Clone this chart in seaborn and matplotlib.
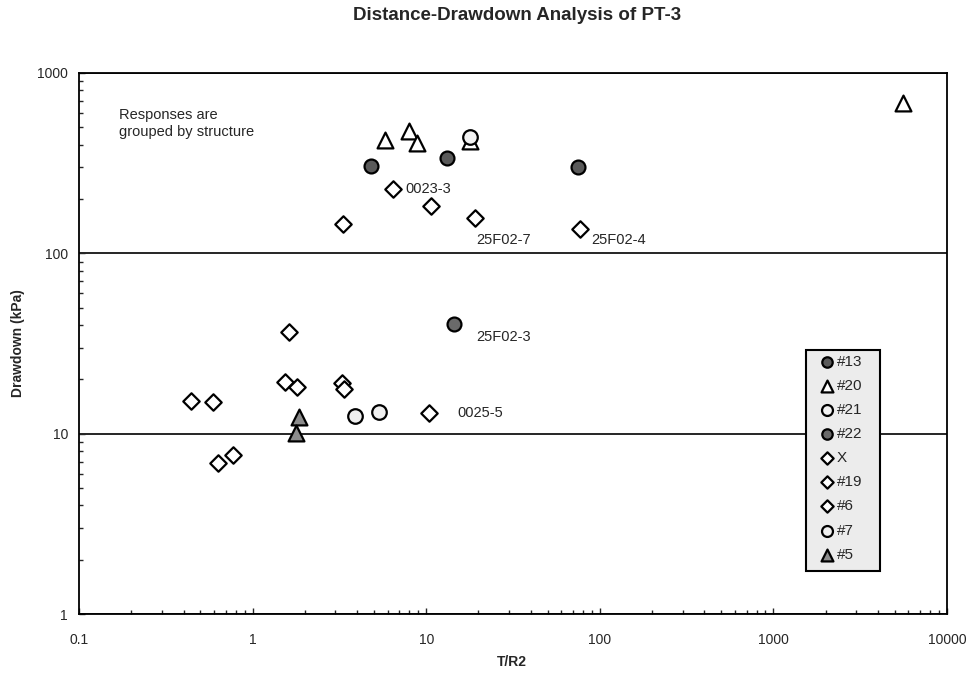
import matplotlib
matplotlib.use("Agg")
import matplotlib.pyplot as plt
import seaborn as sns
import pandas as pd
from matplotlib.ticker import NullFormatter, LogLocator
from matplotlib.patches import Rectangle

sns.set_style("ticks")
plt.rcParams['font.family'] = ['Liberation Sans', 'DejaVu Sans']

# ---- data ----
s13_x = [4.81, 13.2, 74.9]
s13_y = [305, 338, 301]
s20_x = [5.79, 7.96, 8.85, 17.9, 5580]
s20_y = [425, 477, 409, 418, 682]
s21_x = [17.9]
s21_y = [442]
s22_x = [14.5]
s22_y = [40.5]
sX_x = [6.44, 10.7, 19.1, 76.9, 3.32]
sX_y = [227, 183, 157, 136, 145.6]
s19_x = [1.62, 1.54, 1.80, 3.27, 3.36]
s19_y = [36.6, 19.3, 18.1, 19.1, 17.7]
s6_x = [0.442, 0.592, 0.632, 0.771, 10.4]
s6_y = [15.2, 15.0, 6.87, 7.61, 13.0]
s7_x = [3.89, 5.35]
s7_y = [12.5, 13.2]
s5_x = [1.85, 1.78]
s5_y = [12.4, 10.1]

series_names = ["#13", "#20", "#21", "#22", "X", "#19", "#6", "#7", "#5"]
series_x = [s13_x, s20_x, s21_x, s22_x, sX_x, s19_x, s6_x, s7_x, s5_x]
series_y = [s13_y, s20_y, s21_y, s22_y, sX_y, s19_y, s6_y, s7_y, s5_y]

x_ticks = [0.1, 1, 10, 100, 1000, 10000]
x_tick_labels = ["0.1", "1", "10", "100", "1000", "10000"]
y_ticks = [1, 10, 100, 1000]
y_tick_labels = ["1", "10", "100", "1000"]

annot_text = ["0023-3", "25F02-7", "25F02-4", "25F02-3", "0025-5"]
annot_x = [7.55, 19.4, 88.9, 19.4, 15.2]
annot_y = [227, 118.6, 118.6, 34.3, 13.0]

# ---- styles ----
styles = {
    "#13": dict(marker="o", color="#5a5a5a", s=100),
    "#20": dict(marker="^", color="white", s=130),
    "#21": dict(marker="o", color="#f2f2f2", s=110),
    "#22": dict(marker="o", color="#6a6a6a", s=100),
    "X":   dict(marker="D", color="white", s=70),
    "#19": dict(marker="D", color="white", s=70),
    "#6":  dict(marker="D", color="white", s=70),
    "#7":  dict(marker="o", color="#efefef", s=110),
    "#5":  dict(marker="^", color="#8c8c8c", s=130),
}

rows = []
for name, xs, ys in zip(series_names, series_x, series_y):
    for x, y in zip(xs, ys):
        rows.append({"series": name, "T/R2": x, "Drawdown": y})
df = pd.DataFrame(rows)

fig = plt.figure(figsize=(9.71, 6.77), dpi=100)
ax = fig.add_axes([79/971, 63/677, 868/971, 541/677])

for name in series_names:
    sub = df[df["series"] == name]
    st = styles[name]
    sns.scatterplot(data=sub, x="T/R2", y="Drawdown", ax=ax, marker=st["marker"],
                    color=st["color"], s=st["s"], edgecolor="black", linewidth=1.6,
                    label=name, zorder=3)

ax.set_xscale("log")
ax.set_yscale("log")
ax.set_xlim(0.1, 10000)
ax.set_ylim(1, 1000)
ax.set_xticks(x_ticks)
ax.set_xticklabels(x_tick_labels)
ax.set_yticks(y_ticks)
ax.set_yticklabels(y_tick_labels)
ax.xaxis.set_minor_locator(LogLocator(base=10, subs=range(2, 10)))
ax.yaxis.set_minor_locator(LogLocator(base=10, subs=range(2, 10)))
ax.xaxis.set_minor_formatter(NullFormatter())
ax.yaxis.set_minor_formatter(NullFormatter())
ax.tick_params(which="major", direction="in", length=4, width=1, labelsize=10)
ax.tick_params(axis="x", which="major", pad=14)
ax.tick_params(axis="y", which="major", pad=8)
ax.tick_params(which="minor", direction="in", length=3, width=1)
ax.yaxis.grid(True, which="major", color="black", linewidth=1.2)
ax.xaxis.grid(False)
for sp in ax.spines.values():
    sp.set_visible(True)
    sp.set_linewidth(1.3)
    sp.set_color("black")

ax.set_xlabel("T/R2", fontsize=10, fontweight="bold")
ax.xaxis.set_label_coords((512 - 79) / 868, -(655 - 614) / 541)
ax.set_ylabel("Drawdown (kPa)", fontsize=10, fontweight="bold")
ax.yaxis.set_label_coords(-(79 - 25) / 868, 0.5)
fig.text(517 / 971, 1 - 15 / 677, "Distance-Drawdown Analysis of PT-3", fontsize=13.5,
         fontweight="bold", ha="center", va="center")

for t, x, y in zip(annot_text, annot_x, annot_y):
    ax.text(x, y, t, fontsize=10.5, va="center", ha="left")

ax.text(0.046, 0.935, "Responses are\ngrouped by structure", transform=ax.transAxes,
        fontsize=10.5, va="top", ha="left", linespacing=1.25)

# legend box (stippled grey background in the original)
ax.add_patch(Rectangle(((806 - 79) / 868, (614 - 571) / 541), 74 / 868, 221 / 541,
                       transform=ax.transAxes, facecolor="#ececec", edgecolor="black",
                       linewidth=1.5, zorder=4))
leg = ax.legend(loc="upper left", bbox_to_anchor=((820 - 79) / 868, (614 - 355) / 541),
                fontsize=11, frameon=False, handletextpad=0.2, handlelength=0.9,
                labelspacing=0.66, borderpad=0, borderaxespad=0, markerscale=0.75)
leg.set_zorder(5)

fig.savefig("out.png", dpi=100)
